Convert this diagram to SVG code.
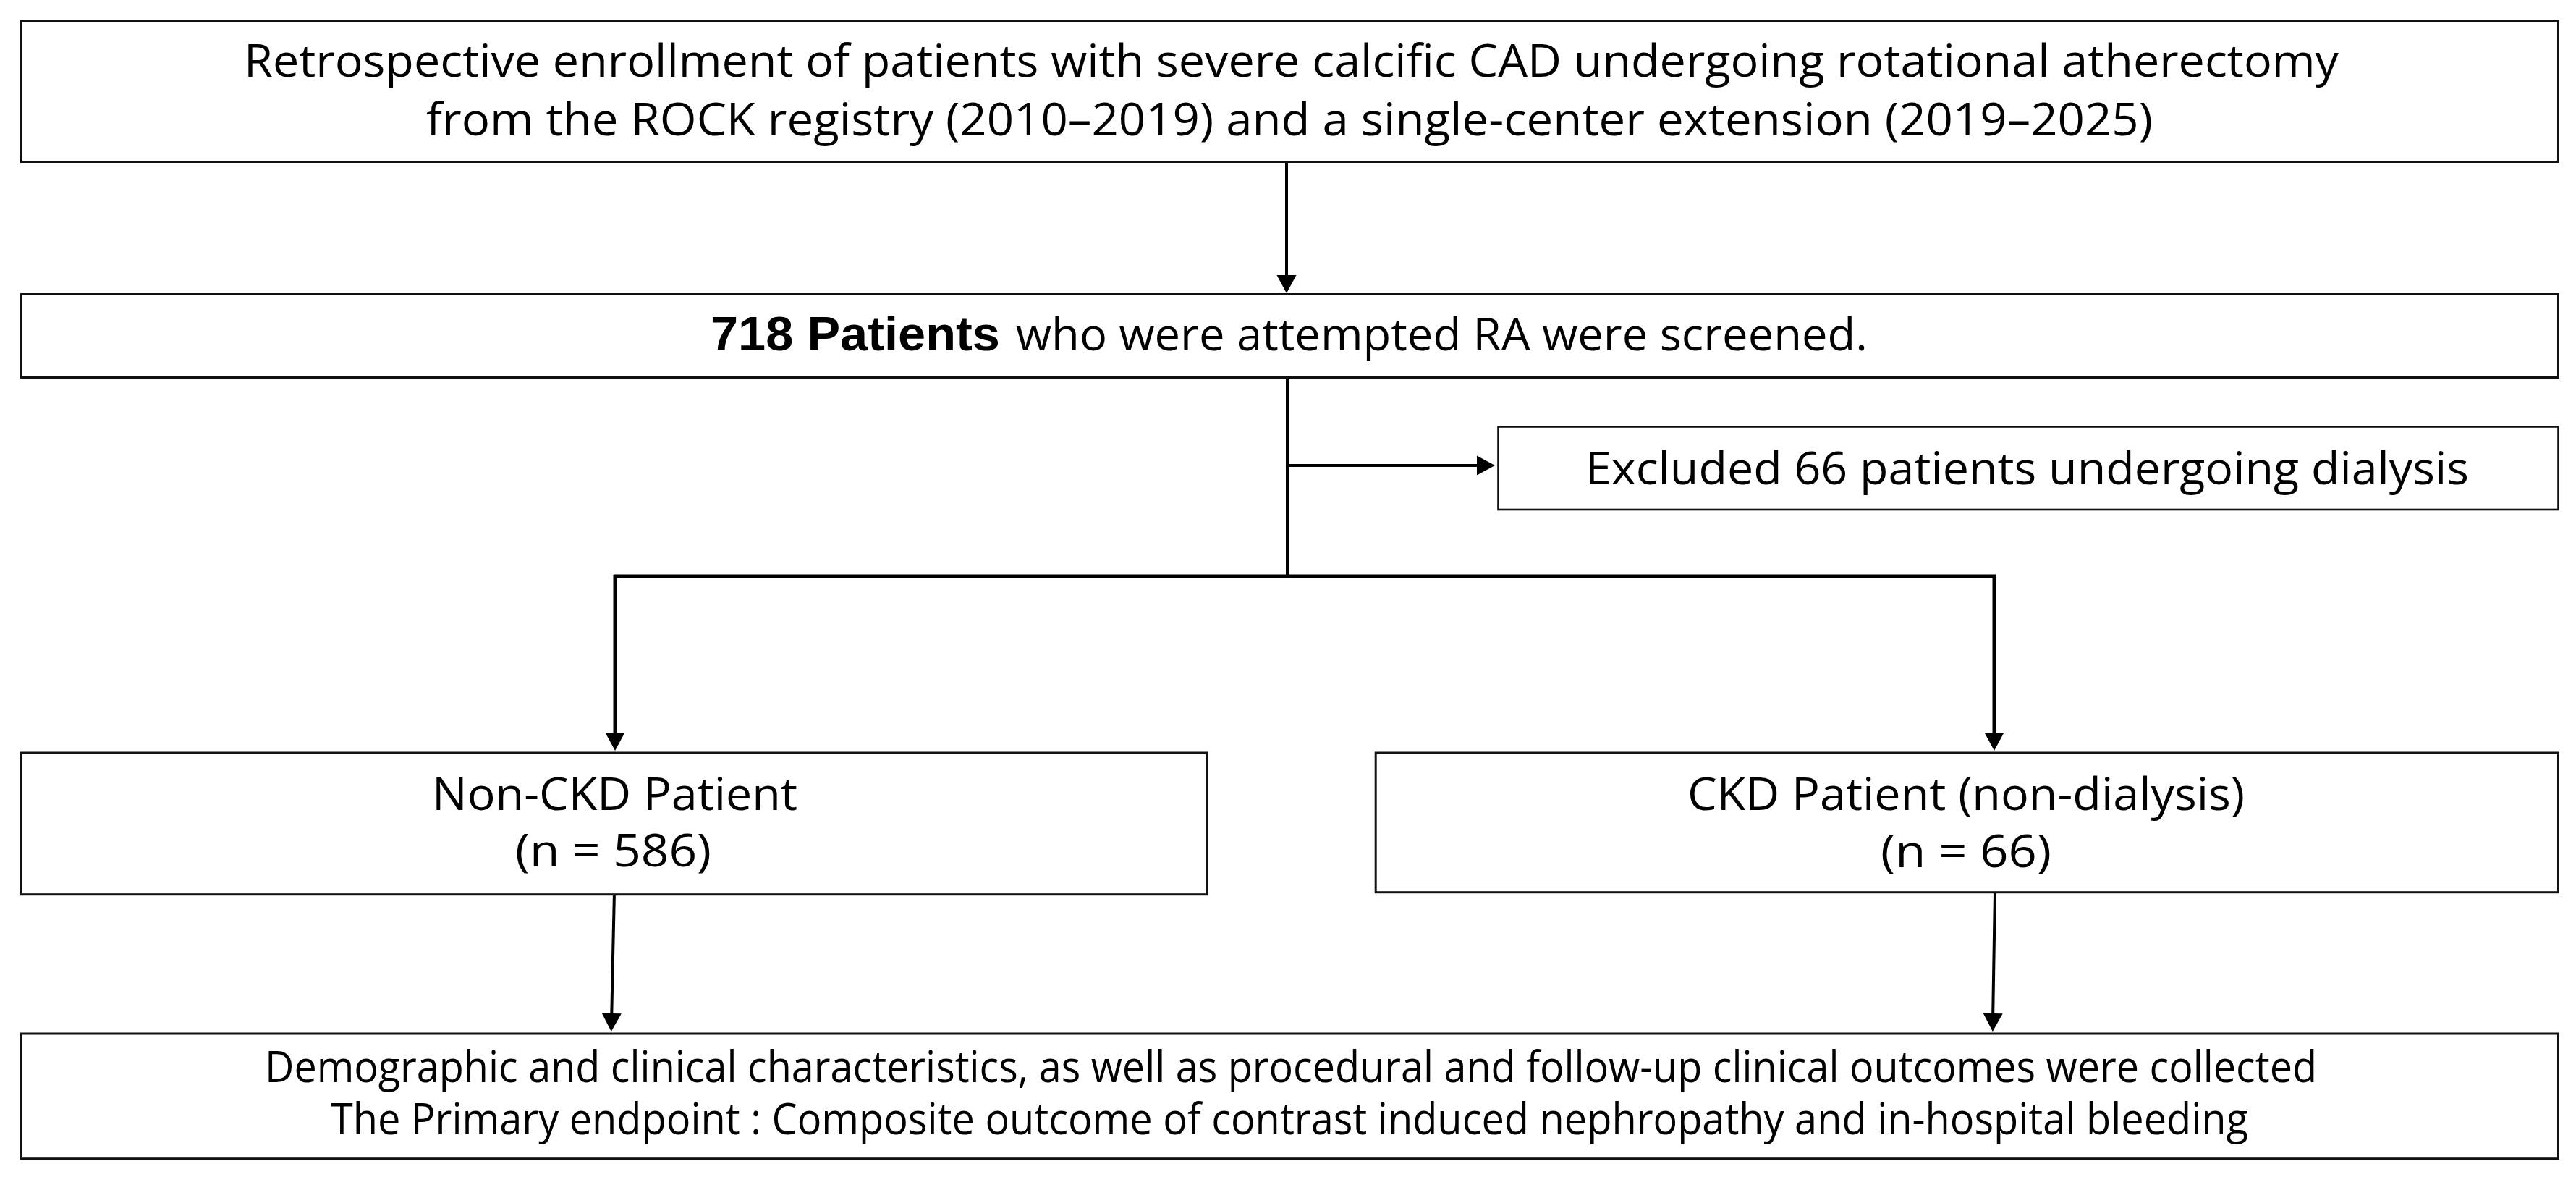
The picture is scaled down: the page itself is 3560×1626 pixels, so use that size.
<svg xmlns="http://www.w3.org/2000/svg" width="3560" height="1626" viewBox="0 0 3560 1626">
  <style>
    .box { fill: #ffffff; stroke: #111111; stroke-width: 3; }
    .thin { stroke-width: 2.6; }
    .t { font-family: "Open Sans", "Noto Sans", "Noto Sans CJK KR", sans-serif; font-size: 63px; fill: #000000; }
    .tb { font-family: "Liberation Sans", Arial, sans-serif; font-weight: bold; font-size: 66px; fill: #000000; }
    .s { font-size: 60px; }
    .c { text-anchor: middle; }
    .con { fill: none; stroke: #000000; stroke-width: 4; }
    .br { stroke-width: 5; }
  </style>
  <defs>
    <marker id="arrow" markerUnits="userSpaceOnUse" markerWidth="28" markerHeight="28" viewBox="0 0 28 28" refX="14" refY="14" orient="auto">
      <path d="M1,0.5 L26,14 L1,27.5 Z" fill="#000000"/>
    </marker>
  </defs>
  <rect x="0" y="0" width="3560" height="1626" fill="#ffffff"/>

  <g id="connectors">
    <line class="con" x1="1778" y1="223" x2="1778" y2="393" marker-end="url(#arrow)"/>
    <line class="con" x1="1779" y1="522" x2="1779" y2="798"/>
    <line class="con" x1="1779" y1="643" x2="2054" y2="643" marker-end="url(#arrow)"/>
    <line class="con br" x1="848" y1="796" x2="2759" y2="796"/>
    <line class="con br" x1="850" y1="794" x2="850" y2="1025" marker-end="url(#arrow)"/>
    <line class="con br" x1="2756" y1="794" x2="2756" y2="1025" marker-end="url(#arrow)"/>
    <line class="con" x1="849" y1="1232" x2="845" y2="1413" marker-end="url(#arrow)"/>
    <line class="con" x1="2757" y1="1232" x2="2754" y2="1413" marker-end="url(#arrow)"/>
  </g>

  <g id="enrollment">
    <rect class="box" x="29.5" y="29" width="3506" height="194.5"/>
    <text class="t c" x="1784.5" y="106" textLength="2895" lengthAdjust="spacingAndGlyphs">Retrospective enrollment of patients with severe calcific CAD undergoing rotational atherectomy</text>
    <text class="t c" x="1782" y="187" textLength="2386" lengthAdjust="spacingAndGlyphs">from the ROCK registry (2010–2019) and a single-center extension (2019–2025)</text>
  </g>

  <g id="screened">
    <rect class="box" x="29.5" y="406.5" width="3506" height="115"/>
    <text class="tb" x="982" y="484" textLength="400" lengthAdjust="spacingAndGlyphs">718 Patients</text>
    <text class="t" x="1404" y="484" textLength="1177" lengthAdjust="spacingAndGlyphs">who were attempted RA were screened.</text>
  </g>

  <g id="excluded">
    <rect class="box thin" x="2070.5" y="589.5" width="1465" height="114.5"/>
    <text class="t" x="2191" y="669" textLength="1221" lengthAdjust="spacingAndGlyphs">Excluded 66 patients undergoing dialysis</text>
  </g>

  <g id="non-ckd">
    <rect class="box" x="29.5" y="1040" width="1638" height="195.7"/>
    <text class="t c" x="849.5" y="1119" textLength="505" lengthAdjust="spacingAndGlyphs">Non-CKD Patient</text>
    <text class="t c" x="847.5" y="1197" textLength="271" lengthAdjust="spacingAndGlyphs">(n = 586)</text>
  </g>

  <g id="ckd">
    <rect class="box" x="1901.2" y="1040" width="1634.3" height="192.7"/>
    <text class="t c" x="2717" y="1119" textLength="770" lengthAdjust="spacingAndGlyphs">CKD Patient (non-dialysis)</text>
    <text class="t c" x="2717" y="1198" textLength="236" lengthAdjust="spacingAndGlyphs">(n = 66)</text>
  </g>

  <g id="outcomes">
    <rect class="box" x="29.5" y="1428" width="3506" height="172.7"/>
    <text class="t s" x="366" y="1495" textLength="2836" lengthAdjust="spacingAndGlyphs">Demographic and clinical characteristics, as well as procedural and follow-up clinical outcomes were collected</text>
    <text class="t s" x="457" y="1567" textLength="2650" lengthAdjust="spacingAndGlyphs">The Primary endpoint : Composite outcome of contrast induced nephropathy and in-hospital bleeding</text>
  </g>
</svg>
